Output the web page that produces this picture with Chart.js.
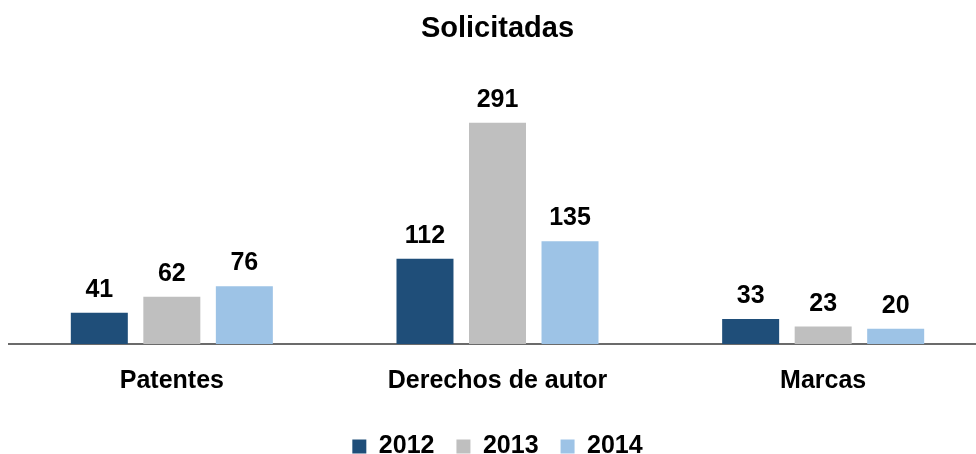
<!DOCTYPE html>
<html>
<head>
<meta charset="utf-8">
<script src="https://cdn.jsdelivr.net/npm/chart.js@4.4.1/dist/chart.umd.min.js"></script>
<style>
  html, body { margin: 0; padding: 0; background: #fff; overflow: hidden; }
  #wrap { width: 986px; height: 454px; }
</style>
</head>
<body>
<div id="wrap"><canvas id="chart" width="986" height="454"></canvas></div>
<script>
// datos del gráfico
const categories = ["Patentes", "Derechos de autor", "Marcas"];
const years = ["2012", "2013", "2014"];
const values2012 = [41, 112, 33];
const values2013 = [62, 291, 23];
const values2014 = [76, 135, 20];
const colors = ["#1F4E79", "#BFBFBF", "#9DC3E6"];

const FONT = "'Liberation Sans', Arial, sans-serif";

// etiquetas de valor encima de cada barra
const valueLabels = {
  id: "valueLabels",
  afterDatasetsDraw(chart) {
    const ctx = chart.ctx;
    ctx.save();
    ctx.font = "bold 25px " + FONT;
    ctx.fillStyle = "#000";
    ctx.textAlign = "center";
    ctx.textBaseline = "alphabetic";
    chart.data.datasets.forEach((ds, i) => {
      const meta = chart.getDatasetMeta(i);
      meta.data.forEach((bar, j) => {
        ctx.fillText(ds.data[j], bar.x, bar.y - 16);
      });
    });
    ctx.restore();
  }
};

const series = [values2012, values2013, values2014];

new Chart(document.getElementById("chart"), {
  type: "bar",
  data: {
    labels: categories,
    datasets: years.map((y, i) => ({
      label: y,
      data: series[i],
      backgroundColor: colors[i],
      borderWidth: 0,
      categoryPercentage: 0.668,
      barPercentage: 0.786
    }))
  },
  options: {
    responsive: false,
    animation: false,
    layout: { padding: { left: 9, right: 0, top: 0, bottom: 0 } },
    plugins: {
      title: {
        display: true,
        text: "Solicitadas",
        color: "#000",
        font: { family: FONT, size: 29, weight: "bold" },
        padding: { top: 12, bottom: 69 }
      },
      legend: {
        position: "bottom",
        maxHeight: 42,
        labels: {
          color: "#000",
          font: { family: FONT, size: 25, weight: "bold" },
          boxWidth: 14,
          boxHeight: 14,
          padding: 22
        }
      },
      tooltip: { enabled: false }
    },
    scales: {
      x: {
        afterFit: (s) => { s.height = 68; },
        grid: { display: false, drawTicks: false },
        border: { display: true, color: "#6b6b6b", width: 2 },
        ticks: {
          color: "#000",
          font: { family: FONT, size: 25, weight: "bold" },
          padding: 22
        }
      },
      y: {
        display: false,
        min: 0,
        max: 300
      }
    }
  },
  plugins: [valueLabels]
});
</script>
</body>
</html>
